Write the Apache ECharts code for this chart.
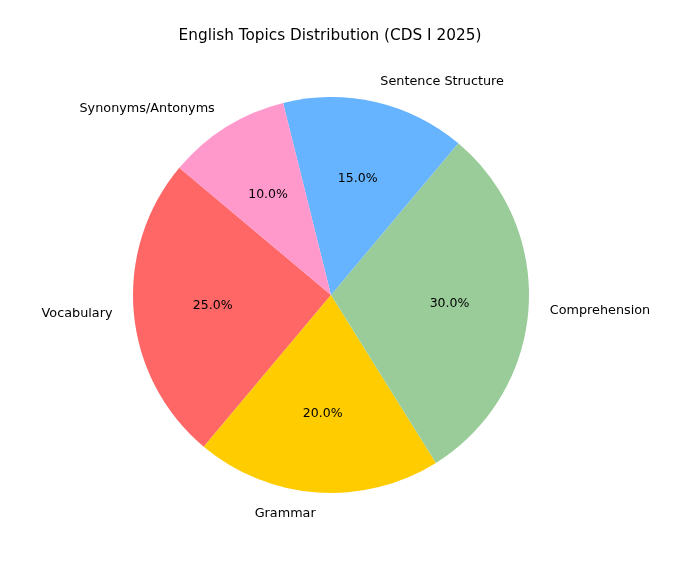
<!DOCTYPE html>
<html><head><meta charset="utf-8">
<script src="https://cdn.jsdelivr.net/npm/echarts@6/dist/echarts.min.js"></script>
<style>html,body{margin:0;padding:0;background:#fff}#c{width:684px;height:578px}</style>
</head><body><div id="c"></div>
<script>
const categories = ['Vocabulary', 'Grammar', 'Comprehension', 'Sentence Structure', 'Synonyms/Antonyms'];
const values = [25, 20, 30, 15, 10];
const colors = ['#ff6666', '#ffcc00', '#99cc99', '#66b3ff', '#ff99cc'];
const titleText = 'English Topics Distribution (CDS I 2025)';

const R = 198;
const total = values.reduce((a, b) => a + b, 0);
const font = 'DejaVu Sans';

const chart = echarts.init(document.getElementById('c'));
chart.setOption({
  animation: false,
  title: {
    text: titleText, left: 325, top: 24, textAlign: 'center',
    textStyle: { fontFamily: font, fontSize: 15.3, fontWeight: 'normal', color: '#000' }
  },
  series: [
    {
      type: 'pie', center: [331, 295], radius: [0, R],
      startAngle: 140, clockwise: false, avoidLabelOverlap: false, silent: true,
      data: categories.map((c, i) => ({ name: c, value: values[i], itemStyle: { color: colors[i] } })),
      label: { show: true, position: 'outside', formatter: '{b}', distanceToLabelLine: 0,
        fontFamily: font, fontSize: 12.8, color: '#000' },
      labelLine: { show: false, length: R * 0.1 + 1.5, length2: 0 },
      itemStyle: { borderWidth: 0 }
    },
    {
      type: 'pie', center: [331, 295], radius: [0, 2 * 0.6 * R - 6],
      startAngle: 140, clockwise: false, avoidLabelOverlap: false, silent: true,
      data: categories.map((c, i) => ({ name: c, value: values[i], itemStyle: { color: 'rgba(0,0,0,0)' } })),
      label: { show: true, position: 'inside',
        formatter: p => (p.value / total * 100).toFixed(1) + '%',
        fontFamily: font, fontSize: 12.5, color: '#000' },
      labelLine: { show: false },
      itemStyle: { borderWidth: 0 }
    }
  ]
});
</script></body></html>
